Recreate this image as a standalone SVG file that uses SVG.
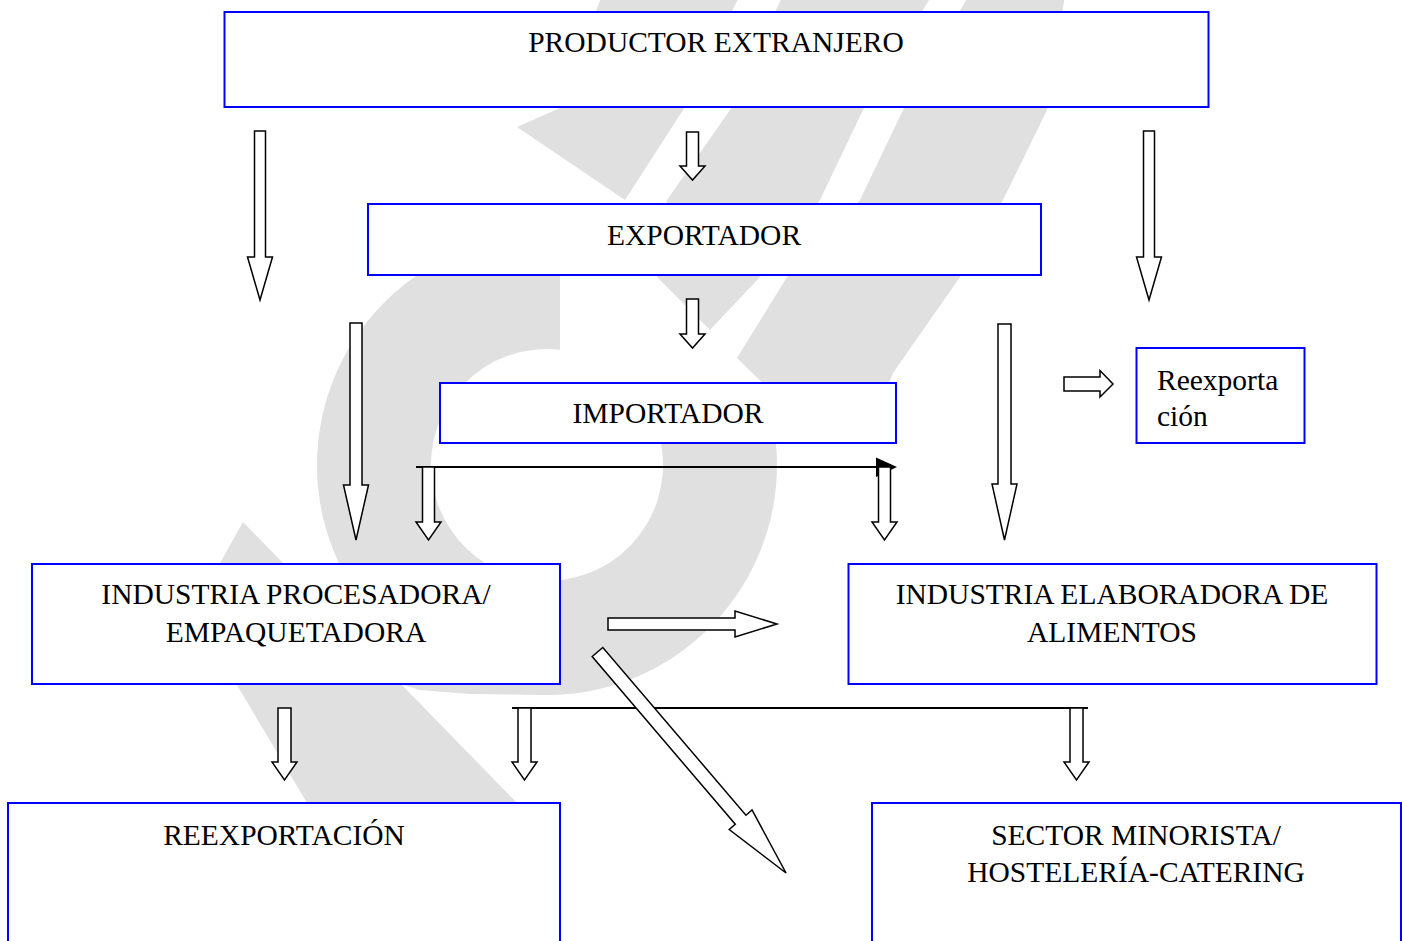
<svg xmlns="http://www.w3.org/2000/svg" width="1402" height="941" viewBox="0 0 1402 941">
<style>
.wm{fill:#e0e0e0}
.box{fill:#fff;stroke:#0000ff;stroke-width:2}
.lbl{font-family:"Liberation Serif","Times New Roman",serif;font-size:29.5px;fill:#000;text-anchor:middle}
.lft{text-anchor:start}
.blk{fill:#fff;stroke:#000;stroke-width:1.5;stroke-linejoin:miter}
.ln{stroke:#000;stroke-width:2;fill:none}
</style>
<rect width="1402" height="941" fill="#fff"/>
<g id="watermark">
<path class="wm" d="M560,235.4 A230,230 0 1 0 767.6,400 L643.1,400 A116,116 0 1 1 560,349.7 Z"/>
<polygon class="wm" points="243,522 220,563 225,620 237,685 307,803 330,810 525,810 517,803 243,522"/>
<polygon class="wm" points="400,650 547,650 547,695 470,694 420,690 400,684"/>
<polygon class="wm" points="602,-5 740,-5 683,110 625,200 517,127 560,108"/>
<polygon class="wm" points="783,-5 932,-5 863,110 820,200 760,277 710,330 657,277 667,200 730,110"/>
<polygon class="wm" points="969,-5 1065,-5 1047,110 1003,200 960,277 893,373 875,420 800,420 737,358 787,277 860,200 903,110"/>
</g>
<g id="node-productor">
<rect class="box" x="224.5" y="12" width="984" height="95"/>
<text class="lbl" x="716" y="52">PRODUCTOR EXTRANJERO</text>
</g>
<g id="node-exportador">
<rect class="box" x="368" y="204" width="673" height="71"/>
<text class="lbl" x="704" y="245">EXPORTADOR</text>
</g>
<g id="node-importador">
<rect class="box" x="440" y="383" width="456" height="60"/>
<text class="lbl" x="668" y="423">IMPORTADOR</text>
</g>
<g id="node-reexportacion-small">
<rect class="box" x="1136.5" y="348" width="168" height="95"/>
<text class="lbl lft" x="1157" y="390">Reexporta</text>
<text class="lbl lft" x="1157" y="426">ción</text>
</g>
<g id="node-industria-procesadora">
<rect class="box" x="32" y="564" width="528" height="120"/>
<text class="lbl" x="296" y="604">INDUSTRIA PROCESADORA/</text>
<text class="lbl" x="296" y="642">EMPAQUETADORA</text>
</g>
<g id="node-industria-elaboradora">
<rect class="box" x="848.5" y="564" width="528" height="120"/>
<text class="lbl" x="1112" y="604">INDUSTRIA ELABORADORA DE</text>
<text class="lbl" x="1112" y="642">ALIMENTOS</text>
</g>
<g id="node-reexportacion">
<rect class="box" x="8" y="803" width="552" height="160"/>
<text class="lbl" x="284" y="845">REEXPORTACIÓN</text>
</g>
<g id="node-sector-minorista">
<rect class="box" x="872" y="803" width="529" height="160"/>
<text class="lbl" x="1136" y="845">SECTOR MINORISTA/</text>
<text class="lbl" x="1136" y="882">HOSTELERÍA-CATERING</text>
</g>
<g id="connectors">
<path class="blk" d="M254.5,131 L265.5,131 L265.5,257 L272.5,257 L260,300 L247.5,257 L254.5,257 Z"/>
<path class="blk" d="M686.5,132 L698.5,132 L698.5,166 L705,166 L692.5,180 L680,166 L686.5,166 Z"/>
<path class="blk" d="M1143.5,131 L1154.5,131 L1154.5,257 L1161.5,257 L1149,300 L1136.5,257 L1143.5,257 Z"/>
<path class="blk" d="M686.5,299 L698.5,299 L698.5,334 L705,334 L692.5,348 L680,334 L686.5,334 Z"/>
<path class="blk" d="M350,323 L362,323 L362,485 L368.5,485 L356,540 L343.5,485 L350,485 Z"/>
<path class="blk" d="M998,324 L1011,324 L1011,484 L1017,484 L1004.5,540 L992,484 L998,484 Z"/>
<path class="blk" d="M1064,377 L1100,377 L1100,370.5 L1113,384 L1100,397 L1100,391 L1064,391 Z"/>
<line class="ln" x1="416" y1="467" x2="880" y2="467"/>
<polygon points="876,457.5 897,467 876,477" fill="#000"/>
<path class="blk" d="M422.5,467 L434.5,467 L434.5,522 L441,522 L428.5,540 L416,522 L422.5,522 Z"/>
<path class="blk" d="M878.5,467 L890.5,467 L890.5,522 L897,522 L884.5,540 L872,522 L878.5,522 Z"/>
<path class="blk" d="M608,618 L735,618 L735,611 L777,624 L735,637 L735,630 L608,630 Z"/>
<line class="ln" x1="512" y1="708" x2="1088" y2="708"/>
<path class="blk" d="M278,708 L291,708 L291,762 L297,762 L284.5,780 L272,762 L278,762 Z"/>
<path class="blk" d="M518,708 L531,708 L531,762 L537,762 L524.5,780 L512,762 L518,762 Z"/>
<path class="blk" d="M1070,708 L1083,708 L1083,762 L1089,762 L1076.5,780 L1064,762 L1070,762 Z"/>
<path class="blk" transform="translate(597.5,652) rotate(-40.47)" d="M-7,0 L7,0 L7,220.5 L15,220.5 L0,290.5 L-15,220.5 L-7,220.5 Z"/>
</g>
</svg>
